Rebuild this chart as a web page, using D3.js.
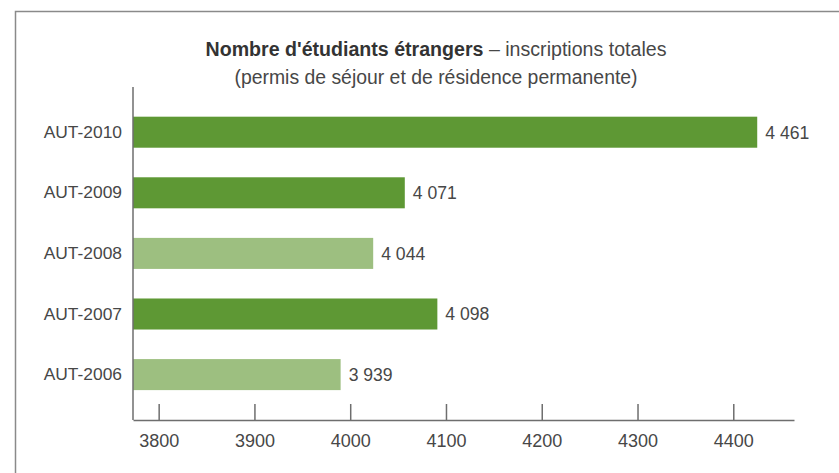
<!DOCTYPE html>
<html>
<head>
<meta charset="utf-8">
<script src="https://cdn.jsdelivr.net/npm/d3@7"></script>
<style>
  body { margin: 0; background: #fff; }
  svg { display: block; font-family: "Liberation Sans", Arial, sans-serif; }
</style>
</head>
<body>
<div id="chart"></div>
<script>
// chart data
var categories = ["AUT-2010", "AUT-2009", "AUT-2008", "AUT-2007", "AUT-2006"];
var values = [4461, 4071, 4044, 4098, 3939];
// bar lengths as drawn in the source (they don't follow the axis exactly)
var barEnds = [4425, 4057, 4024, 4091, 3990];
var highlighted = [true, true, false, true, false];
var tickValues = [3800, 3900, 4000, 4100, 4200, 4300, 4400];

var width = 839, height = 473;
var darkGreen = "#5e9834", lightGreen = "#9dbf80";
var textColor = "#474747", axisColor = "#6e6e6e";

var svg = d3.select("#chart").append("svg")
    .attr("width", width)
    .attr("height", height);

// outer frame (runs off the right / bottom edge)
svg.append("rect")
    .attr("x", 15.5).attr("y", 11.5)
    .attr("width", 900).attr("height", 600)
    .attr("fill", "none")
    .attr("stroke", "#8a8a8a")
    .attr("stroke-width", 1.5);

// title
var title = svg.append("text")
    .attr("x", 436).attr("y", 56)
    .attr("text-anchor", "middle")
    .attr("font-size", 19.6)
    .attr("fill", textColor);
title.append("tspan").attr("font-weight", "bold").attr("fill", "#333").text("Nombre d'étudiants étrangers");
title.append("tspan").text(" – inscriptions totales");
svg.append("text")
    .attr("x", 436).attr("y", 84)
    .attr("text-anchor", "middle")
    .attr("font-size", 19.4)
    .attr("fill", textColor)
    .text("(permis de séjour et de résidence permanente)");

// scales
var x = d3.scaleLinear()
    .domain([3773.2, 4463.4])
    .range([133, 794]);

var y = d3.scaleBand()
    .domain(categories)
    .range([101.9, 404.9])
    .paddingInner(0.488)
    .paddingOuter(0.244);

var plotTop = 87, plotBottom = 420;

// bars
var rows = categories.map(function(c, i) {
    return {cat: c, value: values[i], end: barEnds[i], hi: highlighted[i]};
});

svg.append("g").selectAll("rect")
    .data(rows)
    .enter().append("rect")
    .attr("x", x(x.domain()[0]))
    .attr("y", function(d) { return y(d.cat); })
    .attr("width", function(d) { return x(d.end) - x(x.domain()[0]); })
    .attr("height", y.bandwidth())
    .attr("fill", function(d) { return d.hi ? darkGreen : lightGreen; });

// value labels
var fr = d3.formatLocale({decimal: ",", thousands: " ", grouping: [3], currency: ["", " $"]});
var fmt = fr.format(",d");

svg.append("g").selectAll("text")
    .data(rows)
    .enter().append("text")
    .attr("x", function(d) { return x(d.end) + 8; })
    .attr("y", function(d) { return y(d.cat) + y.bandwidth() / 2; })
    .attr("dy", "0.36em")
    .attr("font-size", 17.6)
    .attr("fill", textColor)
    .text(function(d) { return fmt(d.value); });

// x axis
var xAxis = svg.append("g")
    .attr("transform", "translate(0," + plotBottom + ")")
    .call(d3.axisBottom(x).tickValues(tickValues).tickSize(-16).tickSizeOuter(0).tickPadding(6).tickFormat(d3.format("d")));
xAxis.attr("font-family", null);
xAxis.select(".domain").attr("stroke", axisColor).attr("stroke-width", 1.5);
xAxis.selectAll(".tick line").attr("stroke", axisColor).attr("stroke-width", 1.5);
xAxis.selectAll(".tick text")
    .attr("font-size", 18)
    .attr("fill", textColor)
    .attr("y", 10)
    .attr("dy", "0.95em");

// y axis
var yAxis = svg.append("g")
    .attr("transform", "translate(133,0)")
    .call(d3.axisLeft(y).tickSize(0).tickPadding(11));
yAxis.select(".domain").remove();
yAxis.attr("font-family", null);
yAxis.selectAll(".tick text")
    .attr("font-size", 17.4)
    .attr("fill", textColor);

svg.append("line")
    .attr("x1", 133).attr("x2", 133)
    .attr("y1", plotTop).attr("y2", plotBottom)
    .attr("stroke", axisColor)
    .attr("stroke-width", 1.5);
</script>
</body>
</html>
